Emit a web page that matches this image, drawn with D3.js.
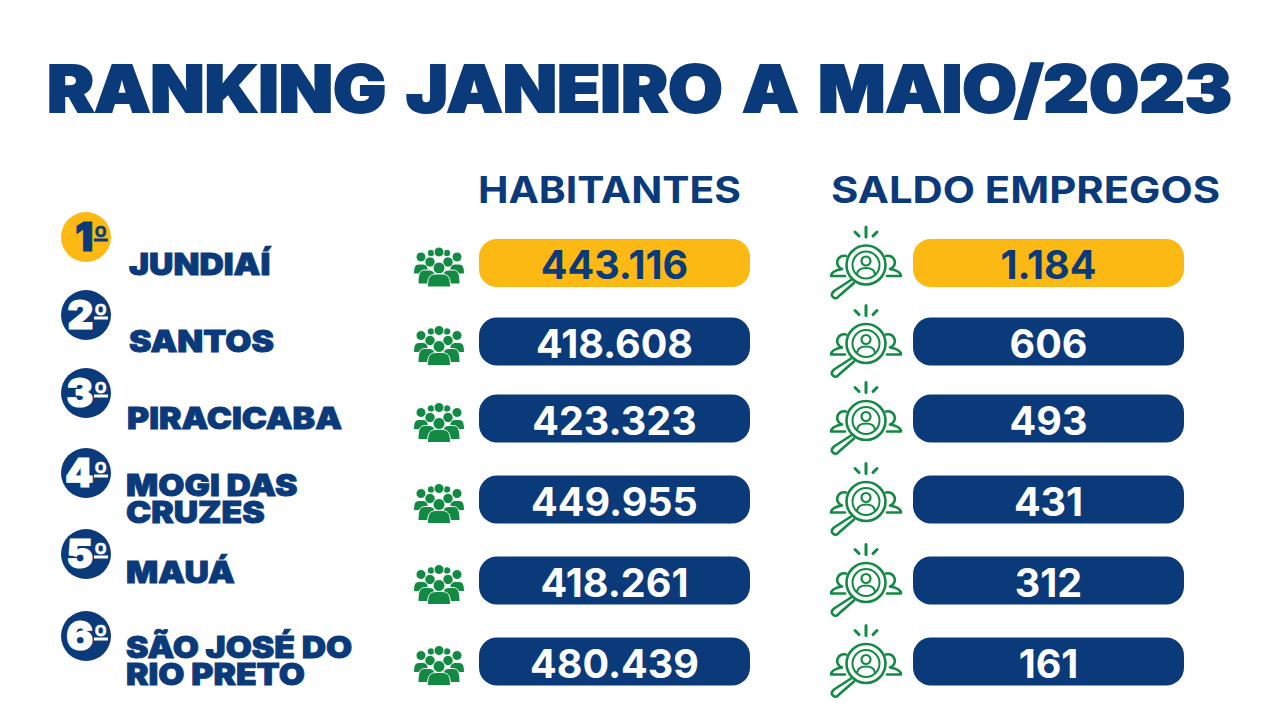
<!DOCTYPE html>
<html><head><meta charset="utf-8">
<style>html,body{margin:0;background:#fff}svg{display:block}text{font-family:Inter,Roboto,sans-serif}</style>
<script src="https://cdn.jsdelivr.net/npm/d3@7"></script></head><body>
<svg id="c" width="1280" height="720"></svg>
<script>
const titleText = "RANKING JANEIRO A MAIO/2023";
const columnHeaders = ["HABITANTES", "SALDO EMPREGOS"];
const rankNumbers = ["1","2","3","4","5","6"];
const cities = [["JUNDIAÍ"],["SANTOS"],["PIRACICABA"],["MOGI DAS","CRUZES"],["MAUÁ"],["SÃO JOSÉ DO","RIO PRETO"]];
const habitantes = [443116,418608,423323,449955,418261,480439];
const saldoEmpregos = [1184,606,493,431,312,161];

const NAVY="#0b3a7a", GOLD="#fdb913", GREEN="#128a43";
const svg=d3.select("#c");
const idx=d3.range(rankNumbers.length);
const rowY=d3.scaleOrdinal(idx,[263,341.5,418.5,499.5,580.5,661.5]);
const badgeY=d3.scaleOrdinal(idx,[237,315,393,473,554,636]);
const labelY=d3.scaleOrdinal(idx,[263,340,417,497,571,659]);
const labelX=d3.scaleOrdinal(idx,[129,129,127,126,126,126]);
const colX=d3.scaleOrdinal([0,1],[479,913]);
const fmt=d3.formatLocale({decimal:",",thousands:".",grouping:[3],currency:["",""]}).format(",d");

svg.append("text").text(titleText).attr("x",47).attr("y",112)
  .attr("textLength",1185).attr("lengthAdjust","spacingAndGlyphs")
  .attr("word-spacing",5)
  .attr("font-size",64).attr("font-weight",900).attr("fill",NAVY)
  .attr("stroke",NAVY).attr("stroke-width",1.8);

svg.selectAll(".hdr").data(columnHeaders).join("text").attr("class","hdr")
  .text(d=>d).attr("x",(d,i)=>[478,831][i]).attr("y",203)
  .attr("textLength",(d,i)=>[263,389][i]).attr("lengthAdjust","spacingAndGlyphs")
  .attr("font-size",37).attr("font-weight",700).attr("fill",NAVY);

const defs=svg.append("defs");
const people=defs.append("g").attr("id","people").attr("fill",GREEN).attr("stroke","#fff").attr("stroke-width",1);
const body=(x,y,w,h)=>{const p=d3.path();p.moveTo(x-w,y+h);p.bezierCurveTo(x-w,y,x-w*.6,y,x,y);p.bezierCurveTo(x+w*.6,y,x+w,y,x+w,y+h);p.closePath();return p.toString();};
const peopleLayers=[
  [[-8,-13,3.8],[8,-13,3.8],[0,-14,5]],
  [[-18,-9,5],[18,-9,5]],
  [[-18,-2,7.5,10,1],[18,-2,7.5,10,1]],
  [[-9,-4,5.2],[9,-4,5.2]],
  [[-12,4,9,14,1],[12,4,9,14,1]],
  [[0,2,6]],
  [[0,8,11.5,13,1]]
];
peopleLayers.forEach(layer=>layer.forEach(d=>{
  if(d[4]) people.append("path").attr("d",body(d[0],d[1],d[2],d[3]));
  else people.append("circle").attr("cx",d[0]).attr("cy",d[1]).attr("r",d[2]);
}));

const lens=defs.append("g").attr("id","lens").attr("fill","none").attr("stroke",GREEN).attr("stroke-width",2.6).attr("stroke-linecap","round").attr("stroke-linejoin","round");
lens.append("path").attr("d","M-20,-9 A6.5,6.5 0 1 0 -24,4 Q-35,6 -35,11 H-21");
lens.append("path").attr("d","M20,-9 A6.5,6.5 0 1 1 24,4 Q35,6 35,11 H21");
lens.append("circle").attr("r",19.5);
lens.append("circle").attr("r",13.5).attr("stroke-width",2);
lens.append("circle").attr("cy",-4).attr("r",4.5).attr("stroke-width",2.2);
lens.append("path").attr("d","M-9,9 Q-8,3 0,3 Q8,3 9,9").attr("stroke-width",2.2);
lens.append("path").attr("d","M-15,15 L-32,26 Q-36,30 -33,32 Q-30,35 -27,31 L-12,18");
lens.append("path").attr("d","M0,-38 V-28 M-11,-33 L-7,-29 M11,-33 L7,-29").attr("stroke-width",3);

const rows=svg.selectAll(".row").data(idx).join("g").attr("class","row");
rows.append("circle").attr("cx",86).attr("cy",i=>badgeY(i)).attr("r",25).attr("fill",i=>i===0?GOLD:NAVY);
const rankText=rows.append("text").attr("x",108).attr("y",i=>badgeY(i)+14).attr("text-anchor","end")
  .attr("font-weight",900).attr("fill",i=>i===0?NAVY:"#fff").attr("stroke",i=>i===0?NAVY:"#fff").attr("stroke-width",1.2);
rankText.append("tspan").attr("font-size",40).text(i=>rankNumbers[i]);
rankText.append("tspan").attr("font-size",29).attr("dy",-4).attr("stroke-width",.5).text("º");
rows.append("rect").attr("x",94).attr("y",i=>badgeY(i)+1.5).attr("width",14).attr("height",3).attr("fill",i=>i===0?NAVY:"#fff");

rows.each(function(i){
  const g=d3.select(this), lines=cities[i], lh=27;
  const t=g.append("text")
     .attr("transform",`translate(${labelX(i)},${labelY(i)+12}) scale(1.125,1)`)
     .attr("font-size",30).attr("font-weight",900).attr("fill",NAVY)
     .attr("stroke",NAVY).attr("stroke-width",.9);
  lines.forEach((s,k)=>{
    t.append("tspan").text(s).attr("x",0).attr("y",(k-(lines.length-1)/2)*lh);
  });
  g.append("use").attr("href","#people").attr("x",439).attr("y",rowY(i)+3);
  g.append("use").attr("href","#lens").attr("x",866).attr("y",rowY(i)+2);
});

[habitantes,saldoEmpregos].forEach((vals,c)=>{
  const g=svg.append("g");
  g.selectAll("rect").data(vals).join("rect")
    .attr("x",colX(c)).attr("y",(d,i)=>rowY(i)-24).attr("width",271).attr("height",48).attr("rx",18)
    .attr("fill",(d,i)=>i===0?GOLD:NAVY);
  g.selectAll("text").data(vals).join("text").text(d=>fmt(d))
    .attr("x",colX(c)+135.5).attr("y",(d,i)=>rowY(i)+16).attr("text-anchor","middle")
    .attr("font-size",39.5).attr("font-weight",700).attr("fill",(d,i)=>i===0?NAVY:"#fff");
});
</script></body></html>
